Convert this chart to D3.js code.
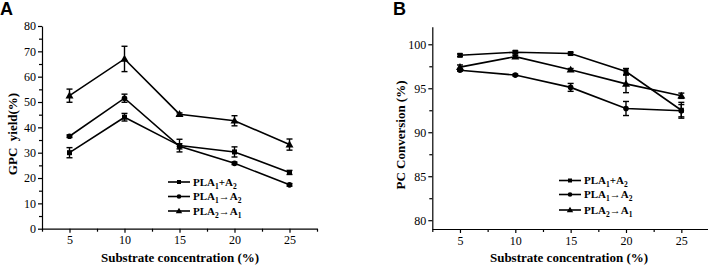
<!DOCTYPE html>
<html lang="en">
<head>
    <meta charset="UTF-8">
    <title>GPC yield and PC conversion</title>
    <script src="https://d3js.org/d3.v7.min.js"></script>
    <style>
        body { margin: 0; background: #fff; }
        text.serif { font-family: "Liberation Serif", "DejaVu Serif", serif; }
    </style>
</head>
<body>
    <div id="chart"></div>

    <script>
        const SERIF = "\"Liberation Serif\", \"DejaVu Serif\", serif";
        const SANS = "\"Liberation Sans\", Arial, sans-serif";

        // x categories (substrate concentration, %)
        const concentrations = [5, 10, 15, 20, 25];

        // legend entries: [main, sub, main, sub]
        const seriesLabels = [
            ["PLA", "1", "+A", "2"],
            ["PLA", "1", "\u2192A", "2"],
            ["PLA", "2", "\u2192A", "1"]
        ];
        const seriesSymbols = ["square", "circle", "triangle"];

        // panel A: GPC yield (%)
        const gpcSquare = [30.0, 44.0, 32.8, 30.3, 22.2];
        const gpcSquareErr = [2.0, 1.5, 2.5, 2.0, 0.8];
        const gpcCircle = [36.5, 51.5, 32.5, 25.8, 17.3];
        const gpcCircleErr = [0.5, 1.6, 1.0, 0.5, 0.5];
        const gpcTriangle = [52.5, 67.0, 45.2, 42.6, 33.2];
        const gpcTriangleErr = [2.6, 5.0, 0.5, 2.0, 2.2];
        const gpcTicks = [0, 10, 20, 30, 40, 50, 60, 70, 80];
        const gpcMinorTicks = [5, 15, 25, 35, 45, 55, 65, 75];

        // panel B: PC conversion (%)
        const pcSquare = [98.75, 99.1, 98.95, 96.9, 92.5];
        const pcSquareErr = [0.15, 0.15, 0.15, 0.35, 0.9];
        const pcCircle = [97.05, 96.5, 95.1, 92.7, 92.45];
        const pcCircleErr = [0.1, 0.1, 0.45, 0.8, 0.7];
        const pcTriangle = [97.4, 98.6, 97.1, 95.5, 94.15];
        const pcTriangleErr = [0.25, 0.15, 0.15, 1.0, 0.3];
        const pcTicks = [80, 85, 90, 95, 100];
        const pcMinorTicks = [82.5, 87.5, 92.5, 97.5];

        const xTicks = [5, 10, 15, 20, 25];
        const xMinorTicks = [2.5, 7.5, 12.5, 17.5, 22.5, 27.5];

        const svg = d3.select("#chart")
            .append("svg")
            .attr("width", 708)
            .attr("height", 266);

        function drawSymbol(g, type, cx, cy, s) {
            if (type === "square") {
                g.append("rect").attr("x", cx - s / 2).attr("y", cy - s / 2)
                    .attr("width", s).attr("height", s).attr("fill", "#000");
            } else if (type === "circle") {
                g.append("circle").attr("cx", cx).attr("cy", cy).attr("r", s / 2 + 0.3).attr("fill", "#000");
            } else {
                g.append("path")
                    .attr("d", d3.symbol().type(d3.symbolTriangle).size(s * s * 1.1)())
                    .attr("transform", `translate(${cx},${cy + 0.5})`)
                    .attr("fill", "#000");
            }
        }

        function renderPanel(opt) {
            const x = d3.scaleLinear().domain([2.5, 27.5]).range(opt.xRange);
            const y = d3.scaleLinear().domain(opt.yDomain).range(opt.yRange);
            const g = svg.append("g");

            // minor ticks
            g.append("g")
                .attr("transform", `translate(0,${opt.yRange[0]})`)
                .call(d3.axisBottom(x).tickValues(xMinorTicks).tickSize(3).tickFormat(""))
                .call(a => a.select(".domain").remove());
            g.append("g")
                .attr("transform", `translate(${opt.xRange[0]},0)`)
                .call(d3.axisLeft(y).tickValues(opt.yMinor).tickSize(3).tickFormat(""))
                .call(a => a.select(".domain").remove());

            // main axes
            g.append("g")
                .attr("transform", `translate(0,${opt.yRange[0]})`)
                .call(d3.axisBottom(x).tickValues(xTicks).tickSize(4).tickSizeOuter(0).tickPadding(3));
            g.append("g")
                .attr("transform", `translate(${opt.xRange[0]},0)`)
                .call(d3.axisLeft(y).tickValues(opt.yTicks).tickSize(4).tickSizeOuter(0).tickPadding(2));
            g.selectAll(".domain, .tick line").attr("stroke", "#000").attr("stroke-width", 1.2);
            g.selectAll("g").attr("font-family", null);
            g.selectAll(".tick text")
                .attr("class", "serif")
                .attr("font-size", "12px")
                .attr("fill", "#000");

            // series
            const line = d3.line().x((d, i) => x(concentrations[i])).y(d => y(d));
            opt.series.forEach((s, k) => {
                g.append("path")
                    .datum(s.values)
                    .attr("d", line)
                    .attr("fill", "none")
                    .attr("stroke", "#000")
                    .attr("stroke-width", 1.6);
                s.values.forEach((v, i) => {
                    const cx = x(concentrations[i]);
                    const e = s.err[i];
                    const y0 = y(v - e), y1 = y(v + e);
                    g.append("line").attr("x1", cx).attr("x2", cx).attr("y1", y0).attr("y2", y1)
                        .attr("stroke", "#000").attr("stroke-width", 1.4);
                    [y0, y1].forEach(yy => g.append("line")
                        .attr("x1", cx - 3).attr("x2", cx + 3).attr("y1", yy).attr("y2", yy)
                        .attr("stroke", "#000").attr("stroke-width", 1.4));
                    drawSymbol(g, seriesSymbols[k], cx, y(v), 5);
                });
            });

            // legend
            seriesLabels.forEach((lab, k) => {
                const ly = opt.legendY[k];
                g.append("line")
                    .attr("x1", opt.legendX).attr("x2", opt.legendX + 22)
                    .attr("y1", ly).attr("y2", ly)
                    .attr("stroke", "#000").attr("stroke-width", 1.6);
                drawSymbol(g, seriesSymbols[k], opt.legendX + 11, ly, 4);
                const t = g.append("text").attr("class", "serif")
                    .attr("font-size", "11px").attr("font-weight", "bold")
                    .attr("x", opt.legendX + 25).attr("y", ly + 3.5);
                t.append("tspan").text(lab[0]);
                t.append("tspan").text(lab[1]).attr("font-size", "7.5px").attr("dy", 3);
                t.append("tspan").text(lab[2]).attr("dy", -3);
                t.append("tspan").text(lab[3]).attr("font-size", "7.5px").attr("dy", 3);
            });

            // titles
            g.append("text").attr("class", "serif")
                .attr("font-size", "13px").attr("font-weight", "bold")
                .attr("x", opt.xTitleX).attr("y", 262)
                .attr("text-anchor", "middle")
                .text("Substrate concentration (%)");
            g.append("text").attr("class", "serif")
                .attr("font-size", "13px").attr("font-weight", "bold")
                .attr("transform", `translate(${opt.yTitleX},${opt.yTitleY}) rotate(-90)`)
                .attr("text-anchor", "middle")
                .style("white-space", "pre")
                .text(opt.yTitle);
            g.append("text")
                .attr("font-family", SANS).attr("font-size", "18px").attr("font-weight", "bold")
                .attr("x", opt.tagX).attr("y", 15)
                .text(opt.tag);
        }

        renderPanel({
            tag: "A", tagX: 0,
            xRange: [42, 317], yDomain: [0, 80], yRange: [228.7, 26], yTicks: gpcTicks, yMinor: gpcMinorTicks,
            yTitle: "GPC  yield(%)", yTitleX: 17, yTitleY: 134, xTitleX: 180,
            legendX: 168, legendY: [182, 196.5, 211],
            series: [
                { values: gpcSquare, err: gpcSquareErr },
                { values: gpcCircle, err: gpcCircleErr },
                { values: gpcTriangle, err: gpcTriangleErr }
            ]
        });

        renderPanel({
            tag: "B", tagX: 393,
            xRange: [432.3, 709], yDomain: [79, 102], yRange: [229, 26.7], yTicks: pcTicks, yMinor: pcMinorTicks,
            yTitle: "PC Conversion (%)", yTitleX: 405, yTitleY: 135, xTitleX: 569,
            legendX: 559, legendY: [180.5, 194.5, 210],
            series: [
                { values: pcSquare, err: pcSquareErr },
                { values: pcCircle, err: pcCircleErr },
                { values: pcTriangle, err: pcTriangleErr }
            ]
        });
    </script>
</body>
</html>
